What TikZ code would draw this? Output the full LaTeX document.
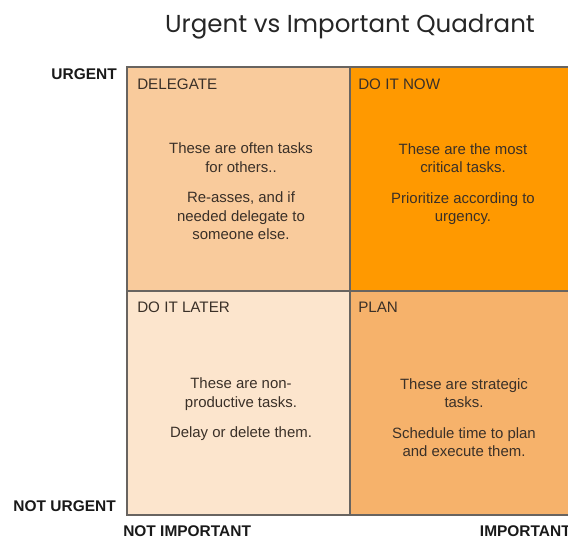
\documentclass[tikz,border=0pt]{standalone}
\usepackage{fontspec}
\setmainfont{Liberation Sans}
\newfontfamily\titlefont{Poppins}
\usepackage{tikz}
\usetikzlibrary{positioning}

\definecolor{gridgray}{HTML}{686460}
\definecolor{delegatefill}{HTML}{F9CB9C}
\definecolor{nowfill}{HTML}{FF9900}
\definecolor{laterfill}{HTML}{FCE5CD}
\definecolor{planfill}{HTML}{F6B26B}
\definecolor{inktext}{HTML}{3A3028}

\begin{document}
\begin{tikzpicture}[
  x=0.75pt, y=-0.75pt,
  quad/.style={rectangle, draw=gridgray, line width=2.2pt, minimum width=167.25pt, minimum height=168pt, inner sep=0pt},
  tag/.style={anchor=base west, inner sep=0pt, text=inktext, font=\fontsize{11.4}{13}\selectfont},
  body/.style={anchor=base, inner sep=0pt, align=center, text=inktext, font=\fontsize{11.2}{13.9}\selectfont},
  axis/.style={inner sep=0pt, font=\fontsize{11.6}{13}\selectfont\bfseries, text=black!90}
]
  \useasboundingbox (0,0) rectangle (568,541);

  % Title
  \node[font=\titlefont\fontsize{18.4}{21}\selectfont, text=black!85] (title) at (350,27) {Urgent vs Important Quadrant};

  % Quadrants
  \node[quad, fill=delegatefill] (delegate) at (238.5,179) {};
  \node[quad, fill=nowfill] (now) at (461.5,179) {};
  \node[quad, fill=laterfill] (later) at (238.5,403) {};
  \node[quad, fill=planfill] (plan) at (461.5,403) {};

  % Quadrant headings
  \node[tag] (delegatetag) at (137,90) {DELEGATE};
  \node[tag] (nowtag) at (358,90) {DO IT NOW};
  \node[tag] (latertag) at (137,313) {DO IT LATER};
  \node[tag] (plantag) at (358,313) {PLAN};

  % Quadrant texts (placed by the baseline of their last line)
  \node[body] (delegatetext) at (241,240) {These are often tasks\\for others..\\[9pt]Re-asses, and if\\needed delegate to\\someone else.};
  \node[body] (nowtext) at (463,222) {These are the most\\critical tasks.\\[9pt]Prioritize according to\\urgency.};
  \node[body] (latertext) at (241,438) {These are non-\\productive tasks.\\[9pt]Delay or delete them.};
  \node[body] (plantext) at (464,457) {These are strategic\\tasks.\\[9pt]Schedule time to plan\\and execute them.};

  % Axis labels
  \node[axis, anchor=base east] (urgent) at (117,80) {URGENT};
  \node[axis, anchor=base east] (noturgent) at (116,512) {NOT URGENT};
  \node[axis, anchor=base west] (notimportant) at (123,537) {NOT IMPORTANT};
  \node[axis, anchor=base east] (important) at (571,537) {IMPORTANT};

\end{tikzpicture}
\end{document}
